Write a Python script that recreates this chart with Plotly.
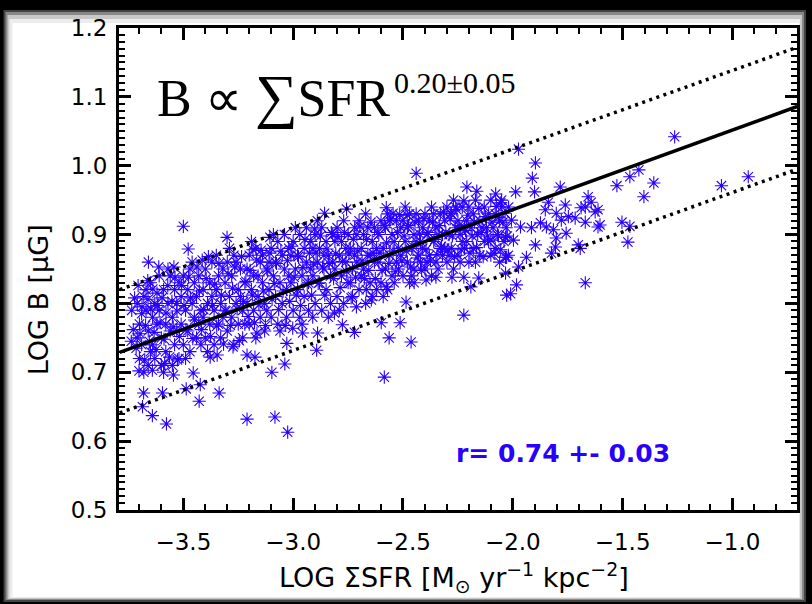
import plotly.graph_objects as go

# ---------------- data ----------------
# (log SigmaSFR, log B) pairs
scatter_pairs = [
    # sparse outliers / right side
    (-1.263, 1.042), (-1.426, 0.994), (-1.467, 0.984), (-1.526, 0.971), (-1.358, 0.975),
    (-1.403, 0.955), (-1.050, 0.971), (-0.928, 0.984), (-1.503, 0.918), (-1.467, 0.912),
    (-1.476, 0.889), (-1.603, 0.914), (-1.612, 0.936),
    (-1.974, 1.024), (-1.897, 1.004), (-1.911, 0.982), (-1.901, 0.962), (-1.987, 0.962),
    (-1.784, 0.969), (-1.657, 0.955), (-1.643, 0.947), (-1.670, 0.940), (-1.625, 0.933),
    (-1.689, 0.939), (-1.838, 0.947), (-1.852, 0.936), (-1.761, 0.943), (-1.747, 0.926),
    (-1.802, 0.931), (-1.779, 0.921), (-1.716, 0.924), (-1.670, 0.918), (-1.612, 0.911),
    (-1.702, 0.885), (-1.693, 0.880), (-1.757, 0.902), (-1.802, 0.895), (-1.806, 0.882),
    (-1.824, 0.873), (-1.897, 0.885), (-1.938, 0.867), (-1.965, 0.911), (-1.915, 0.910),
    (-1.874, 0.917), (-1.847, 0.911), (-1.815, 0.907), (-2.006, 0.921), (-2.033, 0.867),
    (-1.974, 0.853), (-2.033, 0.844), (-1.983, 0.827), (-2.010, 0.814), (-1.670, 0.830),
    (-2.051, 0.950), (-2.019, 0.940), (-2.064, 0.925), (-2.033, 0.896), (-1.997, 0.892),
    # middle outliers
    (-2.440, 0.989), (-2.209, 0.969), (-2.164, 0.963), (-2.223, 0.949), (-2.078, 0.959),
    (-2.055, 0.946), (-2.857, 0.931), (-2.757, 0.937), (-2.576, 0.939), (-2.545, 0.931),
    (-2.481, 0.928), (-2.282, 0.931), (-2.223, 0.838), (-2.223, 0.783), (-2.513, 0.772),
    (-2.563, 0.750), (-2.463, 0.744), (-2.585, 0.693), (-2.893, 0.732), (-2.721, 0.758),
    (-2.776, 0.769), (-2.599, 0.772), (-2.486, 0.802), (-2.350, 0.838), (-2.395, 0.834),
    (-2.449, 0.830), (-2.277, 0.838), (-2.155, 0.837), (-2.191, 0.824), (-2.028, 0.867),
    (-2.028, 0.812), (-2.100, 0.892),
    (-2.911, 0.780), (-2.889, 0.757), (-2.812, 0.786), (-2.712, 0.795), (-2.644, 0.805),
    (-2.576, 0.824), (-2.667, 0.820),
    # left outliers
    (-3.500, 0.912), (-3.301, 0.896), (-3.478, 0.879), (-3.659, 0.860), (-3.414, 0.863),
    (-3.681, 0.670), (-3.595, 0.670), (-3.686, 0.650), (-3.641, 0.637), (-3.577, 0.625),
    (-3.428, 0.658), (-3.337, 0.670), (-3.210, 0.632), (-3.083, 0.635), (-3.025, 0.613),
    (-3.423, 0.682), (-3.487, 0.676), (-3.455, 0.699), (-3.545, 0.696), (-3.641, 0.703),
    (-3.527, 0.718), (-3.378, 0.722), (-3.346, 0.725), (-3.274, 0.737), (-3.097, 0.700),
    (-3.038, 0.712), (-3.174, 0.722), (-3.210, 0.725), (-3.165, 0.757), (-2.957, 0.757),
    (-3.002, 0.764), (-3.029, 0.742), (-2.902, 0.908), (-3.106, 0.896), (-3.183, 0.878),
    # dense cloud
    (-3.71, 0.80), (-3.70, 0.77), (-3.69, 0.74), (-3.70, 0.72), (-3.68, 0.81), (-3.67, 0.79),
    (-3.66, 0.76), (-3.66, 0.71), (-3.65, 0.83), (-3.64, 0.78), (-3.64, 0.74), (-3.63, 0.80),
    (-3.63, 0.72), (-3.62, 0.77), (-3.71, 0.75), (-3.68, 0.70), (-3.67, 0.82), (-3.65, 0.73),
    (-3.69, 0.785), (-3.62, 0.815),
    (-3.61, 0.84), (-3.61, 0.79), (-3.60, 0.75), (-3.60, 0.71), (-3.59, 0.82), (-3.58, 0.77),
    (-3.58, 0.73), (-3.57, 0.80), (-3.56, 0.84), (-3.56, 0.76), (-3.55, 0.78), (-3.55, 0.71),
    (-3.54, 0.82), (-3.54, 0.74), (-3.53, 0.80), (-3.53, 0.76), (-3.52, 0.83), (-3.59, 0.70),
    (-3.57, 0.85), (-3.52, 0.72),
    (-3.51, 0.81), (-3.51, 0.77), (-3.50, 0.84), (-3.50, 0.74), (-3.49, 0.79), (-3.48, 0.82),
    (-3.48, 0.76), (-3.47, 0.85), (-3.47, 0.73), (-3.46, 0.80), (-3.45, 0.78), (-3.45, 0.83),
    (-3.44, 0.75), (-3.44, 0.81), (-3.43, 0.77), (-3.43, 0.84), (-3.42, 0.79), (-3.49, 0.72),
    (-3.46, 0.86), (-3.42, 0.74),
    (-3.41, 0.82), (-3.41, 0.78), (-3.40, 0.85), (-3.40, 0.75), (-3.39, 0.80), (-3.38, 0.83),
    (-3.38, 0.77), (-3.37, 0.86), (-3.36, 0.79), (-3.36, 0.74), (-3.35, 0.82), (-3.34, 0.84),
    (-3.34, 0.77), (-3.33, 0.80), (-3.33, 0.75), (-3.32, 0.85), (-3.39, 0.73), (-3.35, 0.87),
    (-3.37, 0.81), (-3.32, 0.78),
    (-3.31, 0.83), (-3.31, 0.79), (-3.30, 0.86), (-3.30, 0.76), (-3.29, 0.81), (-3.28, 0.84),
    (-3.28, 0.78), (-3.27, 0.87), (-3.27, 0.74), (-3.26, 0.80), (-3.25, 0.82), (-3.25, 0.77),
    (-3.24, 0.85), (-3.23, 0.79), (-3.23, 0.75), (-3.22, 0.83), (-3.29, 0.88), (-3.26, 0.86),
    (-3.24, 0.81), (-3.22, 0.77),
    (-3.21, 0.85), (-3.21, 0.80), (-3.20, 0.87), (-3.20, 0.77), (-3.19, 0.82), (-3.18, 0.84),
    (-3.18, 0.79), (-3.17, 0.88), (-3.17, 0.75), (-3.16, 0.81), (-3.15, 0.86), (-3.15, 0.78),
    (-3.14, 0.83), (-3.13, 0.80), (-3.13, 0.76), (-3.12, 0.85), (-3.19, 0.89), (-3.16, 0.84),
    (-3.14, 0.87), (-3.12, 0.79),
    (-3.11, 0.86), (-3.11, 0.82), (-3.10, 0.88), (-3.10, 0.78), (-3.09, 0.84), (-3.08, 0.81),
    (-3.08, 0.86), (-3.07, 0.89), (-3.07, 0.77), (-3.06, 0.83), (-3.05, 0.87), (-3.05, 0.80),
    (-3.04, 0.85), (-3.03, 0.82), (-3.03, 0.78), (-3.02, 0.88), (-3.09, 0.90), (-3.06, 0.76),
    (-3.04, 0.90), (-3.02, 0.84),
    (-3.01, 0.87), (-3.01, 0.83), (-3.00, 0.89), (-3.00, 0.79), (-2.99, 0.85), (-2.98, 0.82),
    (-2.98, 0.87), (-2.97, 0.90), (-2.97, 0.78), (-2.96, 0.84), (-2.95, 0.88), (-2.95, 0.81),
    (-2.94, 0.86), (-2.93, 0.83), (-2.93, 0.79), (-2.92, 0.89), (-2.99, 0.91), (-2.96, 0.77),
    (-2.94, 0.91), (-2.92, 0.85),
    (-2.91, 0.88), (-2.91, 0.84), (-2.90, 0.90), (-2.90, 0.80), (-2.89, 0.86), (-2.88, 0.83),
    (-2.88, 0.88), (-2.87, 0.91), (-2.87, 0.79), (-2.86, 0.85), (-2.85, 0.89), (-2.85, 0.82),
    (-2.84, 0.87), (-2.83, 0.84), (-2.83, 0.80), (-2.82, 0.90), (-2.89, 0.92), (-2.86, 0.87),
    (-2.84, 0.78), (-2.82, 0.86),
    (-2.81, 0.89), (-2.81, 0.85), (-2.80, 0.91), (-2.80, 0.81), (-2.79, 0.87), (-2.78, 0.84),
    (-2.78, 0.89), (-2.77, 0.92), (-2.77, 0.80), (-2.76, 0.86), (-2.75, 0.90), (-2.75, 0.83),
    (-2.74, 0.88), (-2.73, 0.85), (-2.73, 0.81), (-2.72, 0.91), (-2.79, 0.79), (-2.76, 0.88),
    (-2.74, 0.83), (-2.72, 0.87),
    (-2.71, 0.90), (-2.71, 0.86), (-2.70, 0.92), (-2.70, 0.82), (-2.69, 0.88), (-2.68, 0.85),
    (-2.68, 0.90), (-2.67, 0.80), (-2.66, 0.87), (-2.66, 0.91), (-2.65, 0.83), (-2.64, 0.89),
    (-2.64, 0.81), (-2.63, 0.86), (-2.62, 0.88), (-2.62, 0.82), (-2.69, 0.84), (-2.67, 0.93),
    (-2.65, 0.87), (-2.63, 0.91),
    (-2.61, 0.90), (-2.61, 0.86), (-2.60, 0.92), (-2.60, 0.83), (-2.59, 0.88), (-2.58, 0.85),
    (-2.58, 0.91), (-2.57, 0.93), (-2.57, 0.82), (-2.56, 0.87), (-2.55, 0.90), (-2.55, 0.84),
    (-2.54, 0.89), (-2.53, 0.86), (-2.53, 0.92), (-2.52, 0.88), (-2.59, 0.81), (-2.56, 0.92),
    (-2.54, 0.83), (-2.52, 0.85),
    (-2.51, 0.91), (-2.51, 0.87), (-2.50, 0.92), (-2.50, 0.84), (-2.49, 0.89), (-2.48, 0.86),
    (-2.48, 0.91), (-2.47, 0.93), (-2.47, 0.83), (-2.46, 0.88), (-2.45, 0.90), (-2.45, 0.85),
    (-2.44, 0.89), (-2.43, 0.87), (-2.43, 0.92), (-2.42, 0.89), (-2.49, 0.94), (-2.46, 0.84),
    (-2.44, 0.93), (-2.42, 0.86),
    (-2.41, 0.91), (-2.41, 0.88), (-2.40, 0.93), (-2.40, 0.85), (-2.39, 0.90), (-2.38, 0.87),
    (-2.38, 0.92), (-2.37, 0.94), (-2.37, 0.84), (-2.36, 0.89), (-2.35, 0.91), (-2.35, 0.86),
    (-2.34, 0.90), (-2.33, 0.88), (-2.33, 0.93), (-2.32, 0.90), (-2.39, 0.86), (-2.36, 0.93),
    (-2.34, 0.85), (-2.32, 0.87),
    (-2.31, 0.92), (-2.31, 0.88), (-2.30, 0.94), (-2.30, 0.86), (-2.29, 0.90), (-2.28, 0.88),
    (-2.28, 0.93), (-2.27, 0.95), (-2.27, 0.85), (-2.26, 0.91), (-2.25, 0.92), (-2.25, 0.87),
    (-2.24, 0.90), (-2.23, 0.89), (-2.23, 0.94), (-2.22, 0.91), (-2.29, 0.87), (-2.26, 0.94),
    (-2.24, 0.86), (-2.22, 0.88),
    (-2.21, 0.92), (-2.21, 0.89), (-2.20, 0.94), (-2.20, 0.86), (-2.19, 0.91), (-2.18, 0.88),
    (-2.18, 0.93), (-2.17, 0.95), (-2.17, 0.86), (-2.16, 0.90), (-2.15, 0.92), (-2.15, 0.87),
    (-2.14, 0.91), (-2.13, 0.89), (-2.13, 0.94), (-2.12, 0.91),
    (-2.11, 0.93), (-2.11, 0.89), (-2.10, 0.95), (-2.10, 0.87), (-2.09, 0.91), (-2.08, 0.88),
    (-2.08, 0.93), (-2.07, 0.90), (-2.06, 0.86), (-2.06, 0.92), (-2.05, 0.94), (-2.04, 0.89),
    (-2.03, 0.91), (-2.02, 0.87),
    # additional points filling the dense cloud
    (-3.735, 0.790), (-3.728, 0.762), (-3.722, 0.808), (-3.715, 0.735), (-3.706, 0.826),
    (-3.697, 0.756), (-3.688, 0.795), (-3.676, 0.718), (-3.672, 0.768), (-3.661, 0.806),
    (-3.655, 0.745), (-3.648, 0.792), (-3.639, 0.821), (-3.633, 0.758), (-3.624, 0.733),
    (-3.617, 0.797), (-3.606, 0.772), (-3.597, 0.808), (-3.588, 0.748), (-3.579, 0.786),
    (-3.571, 0.826), (-3.563, 0.722), (-3.552, 0.803), (-3.546, 0.766), (-3.538, 0.838),
    (-3.529, 0.789), (-3.518, 0.752), (-3.508, 0.826), (-3.737, 0.745), (-3.702, 0.702),
    (-3.662, 0.833), (-3.612, 0.853), (-3.585, 0.713), (-3.543, 0.853),
    (-3.497, 0.797), (-3.488, 0.762), (-3.476, 0.838), (-3.468, 0.808), (-3.457, 0.749),
    (-3.449, 0.776), (-3.438, 0.853), (-3.427, 0.818), (-3.418, 0.762), (-3.407, 0.791),
    (-3.396, 0.836), (-3.386, 0.868), (-3.376, 0.752), (-3.367, 0.797), (-3.357, 0.828),
    (-3.348, 0.767), (-3.338, 0.858), (-3.327, 0.812), (-3.317, 0.741), (-3.306, 0.789),
    (-3.296, 0.843), (-3.286, 0.768), (-3.276, 0.822), (-3.266, 0.853), (-3.255, 0.792),
    (-3.245, 0.746), (-3.235, 0.868), (-3.226, 0.803), (-3.215, 0.832), (-3.205, 0.781),
    (-3.196, 0.848), (-3.186, 0.812), (-3.176, 0.772), (-3.166, 0.863), (-3.156, 0.798),
    (-3.146, 0.877), (-3.136, 0.818), (-3.126, 0.768), (-3.116, 0.847), (-3.106, 0.873),
    (-3.096, 0.806), (-3.086, 0.829), (-3.076, 0.858), (-3.066, 0.791), (-3.056, 0.876),
    (-3.046, 0.818), (-3.036, 0.768), (-3.026, 0.862), (-3.016, 0.803), (-3.006, 0.883),
    (-2.996, 0.838), (-2.986, 0.812), (-2.976, 0.868), (-2.966, 0.797), (-2.956, 0.852),
    (-2.946, 0.893), (-2.936, 0.828), (-2.926, 0.873), (-2.916, 0.812), (-2.906, 0.857),
    (-2.896, 0.873), (-2.886, 0.829), (-2.876, 0.898), (-2.866, 0.853), (-2.856, 0.812),
    (-2.846, 0.879), (-2.836, 0.858), (-2.826, 0.903), (-2.816, 0.836), (-2.806, 0.872),
    (-2.796, 0.897), (-2.786, 0.823), (-2.776, 0.861), (-2.766, 0.903), (-2.756, 0.846),
    (-2.746, 0.872), (-2.736, 0.808), (-2.726, 0.893), (-2.716, 0.838), (-2.706, 0.876),
    (-2.696, 0.912), (-2.686, 0.862), (-2.676, 0.836), (-2.666, 0.893), (-2.656, 0.848),
    (-2.646, 0.918), (-2.636, 0.873), (-2.626, 0.836),
    (-2.615, 0.903), (-2.605, 0.873), (-2.595, 0.848), (-2.585, 0.913), (-2.575, 0.888),
    (-2.565, 0.858), (-2.555, 0.923), (-2.545, 0.876), (-2.535, 0.846), (-2.525, 0.903),
    (-2.515, 0.929), (-2.505, 0.862), (-2.495, 0.898), (-2.485, 0.876), (-2.475, 0.913),
    (-2.465, 0.853), (-2.455, 0.883), (-2.445, 0.918), (-2.435, 0.866), (-2.425, 0.901),
    (-2.415, 0.848), (-2.405, 0.923), (-2.395, 0.878), (-2.385, 0.903), (-2.375, 0.862),
    (-2.365, 0.918), (-2.355, 0.893), (-2.345, 0.871), (-2.335, 0.913), (-2.325, 0.883),
    (-2.315, 0.933), (-2.305, 0.903), (-2.295, 0.878), (-2.285, 0.923), (-2.275, 0.898),
    (-2.265, 0.868), (-2.255, 0.936), (-2.245, 0.913), (-2.235, 0.878), (-2.215, 0.906),
    (-2.205, 0.928), (-2.195, 0.873), (-2.185, 0.898), (-2.175, 0.918), (-2.165, 0.881),
    (-2.155, 0.938), (-2.145, 0.903), (-2.135, 0.868), (-2.125, 0.926), (-2.115, 0.898),
    (-2.095, 0.918), (-2.085, 0.873), (-2.075, 0.941), (-2.065, 0.898), (-2.055, 0.878),
    (-2.045, 0.918), (-2.035, 0.931), (-2.025, 0.898),
]
log_sfr = [p[0] for p in scatter_pairs]
log_b = [p[1] for p in scatter_pairs]

# fit line and its +/- envelope (end points)
fit_x = [-3.79, -0.705]
fit_y = [0.729, 1.086]
upper_y = [0.820, 1.172]
lower_y = [0.641, 0.995]

x_ticks = [-3.5, -3.0, -2.5, -2.0, -1.5, -1.0]
y_ticks = [0.5, 0.6, 0.7, 0.8, 0.9, 1.0, 1.1, 1.2]

BLUE = "rgb(40,0,255)"
TICKFONT = dict(family="DejaVu Sans", size=23, color="black")

fig = go.Figure()
fig.add_trace(go.Scatter(
    x=log_sfr, y=log_b, mode="markers",
    marker=dict(symbol="asterisk-open", size=11, color=BLUE,
                line=dict(color=BLUE, width=1.1)),
    showlegend=False, hoverinfo="skip"))
fig.add_trace(go.Scatter(x=fit_x, y=fit_y, mode="lines",
                         line=dict(color="black", width=3.5), showlegend=False))
for yy in (upper_y, lower_y):
    fig.add_trace(go.Scatter(x=fit_x, y=yy, mode="lines",
                             line=dict(color="black", width=3.5, dash="3px,4.5px"),
                             showlegend=False))

axis_common = dict(
    showline=True, linecolor="black", linewidth=3, mirror="ticks",
    ticks="inside", tickcolor="black", tickwidth=2.5, ticklen=12,
    showgrid=False, zeroline=False, tickfont=TICKFONT, tickformat=".1f",
)
fig.update_xaxes(range=[-3.793, -0.706], tickvals=x_ticks, ticklabelstandoff=9,
                 minor=dict(dtick=0.1, tick0=0, ticks="inside", ticklen=6,
                            tickwidth=2, tickcolor="black", showgrid=False),
                 **axis_common)
fig.update_yaxes(range=[0.5, 1.2], tickvals=y_ticks, ticklabelstandoff=4,
                 minor=dict(dtick=0.01, tick0=0, ticks="inside", ticklen=6,
                            tickwidth=2, tickcolor="black", showgrid=False),
                 **axis_common)

# framed white panel on black background (with soft shadow edge)
W, H = 812, 604
L, R, T, B = 119, 12, 28, 94
pw, ph = W - L - R, H - T - B


def px2paper(x0, y0, x1, y1):
    return dict(x0=(x0 - L) / pw, x1=(x1 - L) / pw,
                y0=(H - B - y1) / ph, y1=(H - B - y0) / ph)


shapes = []
for (x0, y0, x1, y1, c) in [
    (3, 10, 809, 602, "#444444"),
    (5, 12, 807, 600, "#888888"),
    (7, 15, 805, 599, "#c8c8c8"),
    (9, 19, 803, 598, "#ececec"),
    (12, 23, 802, 597, "#ffffff"),
]:
    shapes.append(dict(type="rect", xref="paper", yref="paper", layer="below",
                       line=dict(width=0), fillcolor=c, **px2paper(x0, y0, x1, y1)))

annotations = [
    dict(text="B \u221d <span style='font-size:60px'>\u2211</span>SFR", xref="paper", yref="paper",
         x=(155 - L) / pw, y=(H - B - 96) / ph, xanchor="left", yanchor="middle",
         showarrow=False, font=dict(family="Liberation Serif", size=52, color="black")),
    dict(text="0.20\u00b10.05", xref="paper", yref="paper",
         x=(393 - L) / pw, y=(H - B - 82) / ph, xanchor="left", yanchor="middle",
         showarrow=False, font=dict(family="Liberation Serif", size=30, color="black")),
    dict(text="<b>r= 0.74 +- 0.03</b>", xref="paper", yref="paper",
         x=(455 - L) / pw, y=(H - B - 453) / ph, xanchor="left", yanchor="middle",
         showarrow=False, font=dict(family="DejaVu Sans", size=25, color=BLUE)),
    dict(text="LOG \u03a3SFR [M<sub>\u2299</sub> yr<sup>\u22121</sup> kpc<sup>\u22122</sup>]",
         xref="paper", yref="paper",
         x=(455 - L) / pw, y=(H - B - 577) / ph, xanchor="center", yanchor="middle",
         showarrow=False, font=dict(family="DejaVu Sans", size=27, color="black")),
    dict(text="LOG B [\u03bcG]", xref="paper", yref="paper", textangle=-90,
         x=(38 - L) / pw, y=(H - B - 300) / ph, xanchor="center", yanchor="middle",
         showarrow=False, font=dict(family="DejaVu Sans", size=27, color="black")),
]

fig.update_layout(
    width=W, height=H,
    margin=dict(l=L, r=R, t=T, b=B, pad=0),
    paper_bgcolor="black", plot_bgcolor="white",
    shapes=shapes, annotations=annotations,
    showlegend=False,
)

fig.write_html(
    "out.html",
    config={"displayModeBar": False},
    post_script="document.body.style.margin='0px';document.body.style.background='black';",
)
